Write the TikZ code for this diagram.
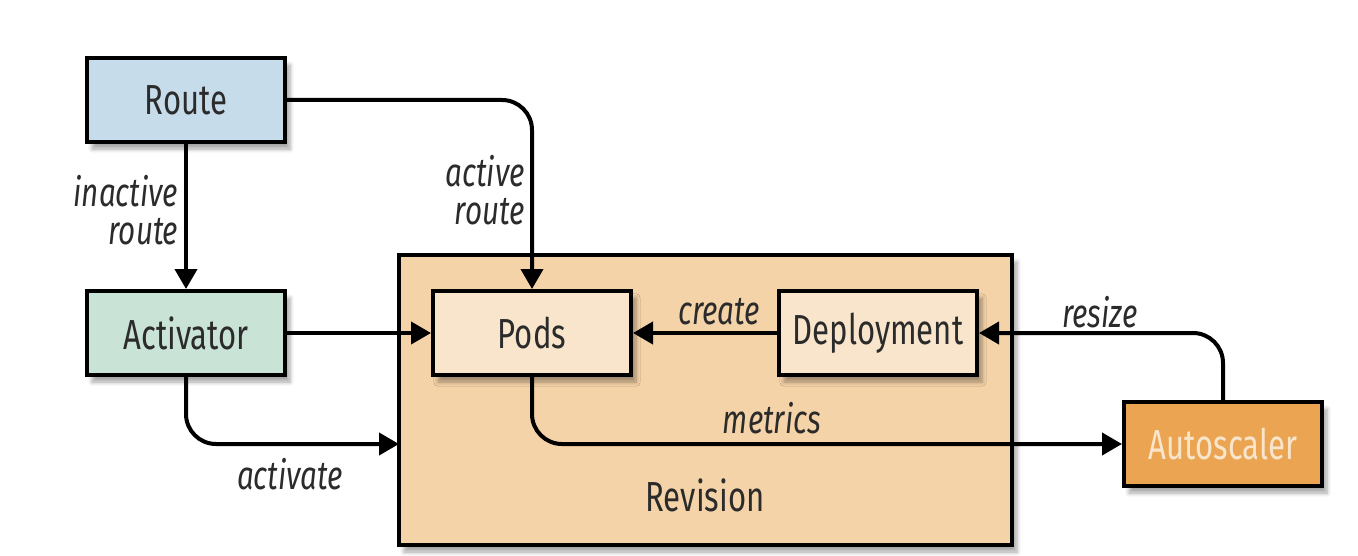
\documentclass[tikz,border=0pt]{standalone}
\usepackage{fontspec}
\setmainfont{Fira Sans}[FakeStretch=0.74]
\usetikzlibrary{arrows.meta,shadows.blur}
\definecolor{routeblue}{HTML}{C6DCEA}
\definecolor{actgreen}{HTML}{C9E3D6}
\definecolor{revtan}{HTML}{F5D3A8}
\definecolor{podcream}{HTML}{F9E5CC}
\definecolor{scaleorange}{HTML}{EBA552}
\definecolor{textgray}{HTML}{2B2B2B}
\tikzstyle{box}=[draw=black, line width=2pt, minimum width=99pt, minimum height=42pt, text=textgray, font=\fontsize{21}{24}\selectfont, blur shadow={shadow xshift=2.5pt, shadow yshift=-3.5pt, shadow opacity=35, shadow blur steps=6}]
\tikzstyle{lbl}=[text=textgray, font=\fontsize{20}{19}\selectfont\itshape, align=right]
\tikzstyle{arr}=[line width=2pt, rounded corners=15pt, -{Triangle[length=10pt,width=11pt]}]

\begin{document}
\begin{tikzpicture}[x=0.5pt, y=-0.5pt]
				\useasboundingbox (0,0) rectangle (1358,556);
				\node[box, fill=revtan, minimum width=306.5pt, minimum height=145pt] (revision) at (705.5,400) {};
				\node[text=textgray, font=\fontsize{21}{24}\selectfont] (revlabel) at (705,495) {Revision};
				\node[box, fill=routeblue] (route) at (186,100) {Route};
				\node[box, fill=actgreen] (activator) at (186,333) {Activator};
				\node[box, fill=podcream] (pods) at (532,333) {Pods};
				\node[box, fill=podcream] (deployment) at (878,333) {Deployment};
				\node[box, fill=scaleorange, text=podcream] (autoscaler) at (1223,444) {Autoscaler};
				\coordinate (actin) at (399,444);
				\draw[arr] (route.east) -| (pods.north);
				\draw[arr] (route) -- (activator);
				\draw[arr] (activator) -- (pods);
				\draw[arr] (activator.south) |- (actin);
				\draw[arr] (deployment) -- (pods);
				\draw[arr] (autoscaler.north) |- (deployment.east);
				\draw[arr] (pods.south) |- (autoscaler.west);
				\node[lbl] (inactivelbl) at (126,210) {inactive\\route};
				\node[lbl] (activelbl) at (485,190) {active\\route};
				\node[lbl] (activatelbl) at (290,474) {activate};
				\node[lbl] (createlbl) at (719,312) {create};
				\node[lbl] (resizelbl) at (1100,312) {resize};
				\node[lbl] (metricslbl) at (772,418) {metrics};
			\end{tikzpicture}
\end{document}
